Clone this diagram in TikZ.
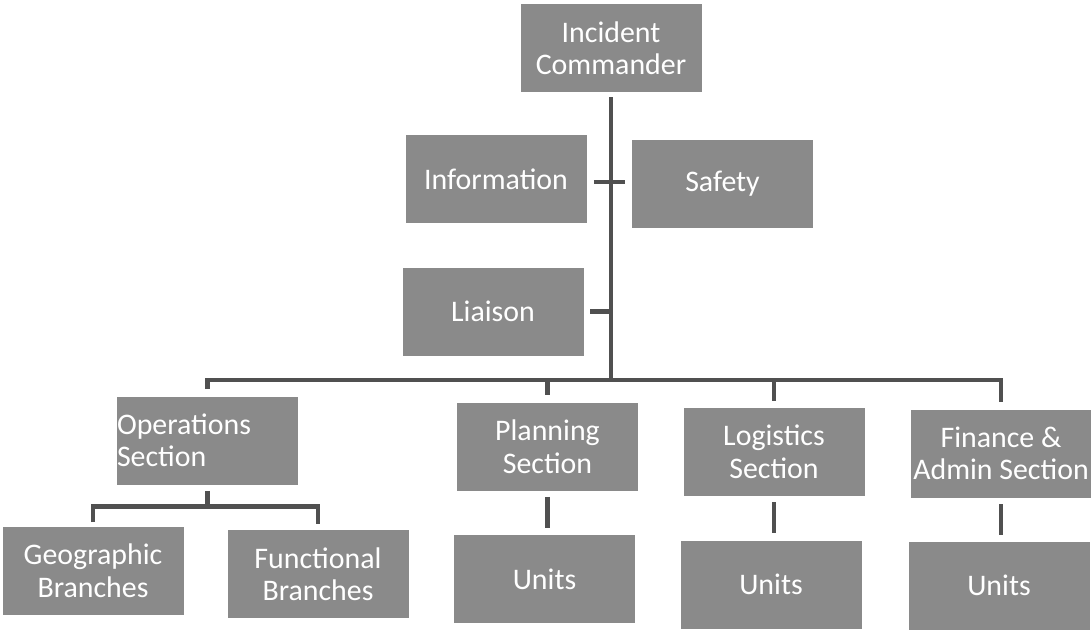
\documentclass[tikz,border=0pt]{standalone}
\usepackage{fontspec}
\setmainfont{Carlito}
\usepackage{tikz}
\usepackage{xcolor}
\definecolor{boxgray}{RGB}{138,138,138}
\definecolor{linegray}{RGB}{80,80,80}

\begin{document}
\begin{tikzpicture}[
    box/.style={draw=none, fill=boxgray, text=white, minimum width=3.62cm, minimum height=1.76cm,
                inner sep=0pt, align=center, font=\fontsize{17}{18.5}\selectfont},
    conn/.style={draw=linegray, line width=2.8pt}
    ]
            \useasboundingbox[fill=white] (0,0) rectangle (21.82,-12.66);

            \node[box] (ic) at (12.22,-0.96) {Incident\\Commander};
            
            \node[box] (info) at (9.92,-3.58) {Information};
            \node[box] (safety) at (14.45,-3.67) {Safety};
            \node[box] (liaison) at (9.86,-6.23) {Liaison};
            
            \node[box, text width=3.62cm, align=left] (ops) at (4.15,-8.81) {Operations\\Section};
            \node[box] (plan) at (10.95,-8.93) {Planning\\Section};
            \node[box] (log) at (15.48,-9.04) {Logistics\\Section};
            \node[box] (fin) at (20.02,-9.07) {Finance \&\\Admin Section};
            
            \node[box] (geo) at (1.86,-11.41) {Geographic\\Branches};
            \node[box] (func) at (6.36,-11.48) {Functional\\Branches};
            \node[box] (unitsP) at (10.89,-11.58) {Units};
            \node[box] (unitsL) at (15.42,-11.69) {Units};
            \node[box] (unitsF) at (19.98,-11.71) {Units};
            
            \coordinate (bus) at (0,-7.6);
            \coordinate (opsjoin) at ([yshift=-0.44cm]ops.south);
            
            \draw[conn, shorten <=0.1cm] (ic.south) -- (ic.south |- bus);
            \draw[conn, shorten <=0.14cm, shorten >=0.14cm] ([yshift=-0.06cm]info.east) -- ([yshift=-0.06cm]info.east -| safety.west);
            \draw[conn, shorten <=0.13cm] (liaison.east) -- (liaison.east -| ic.south);
            
            \draw[conn, shorten <=0.14cm, shorten >=0.14cm] (ops.north) -- (ops.north |- bus) -- (fin.north |- bus) -- (fin.north);
            \draw[conn, shorten >=0.14cm] (plan.north |- bus) -- (plan.north);
            \draw[conn, shorten >=0.14cm] (log.north |- bus) -- (log.north);
            
            \draw[conn, shorten <=0.12cm] (ops.south) -- (opsjoin);
            \draw[conn, shorten <=0.08cm, shorten >=0.12cm] (geo.north) |- (opsjoin) -| (func.north);
            
            \draw[conn, shorten <=0.12cm, shorten >=0.13cm] (plan.south) -- (plan.south |- unitsP.north);
            \draw[conn, shorten <=0.12cm, shorten >=0.14cm] (log.south) -- (log.south |- unitsL.north);
            \draw[conn, shorten <=0.13cm, shorten >=0.13cm] (fin.south) -- (fin.south |- unitsF.north);
\end{tikzpicture}
\end{document}
